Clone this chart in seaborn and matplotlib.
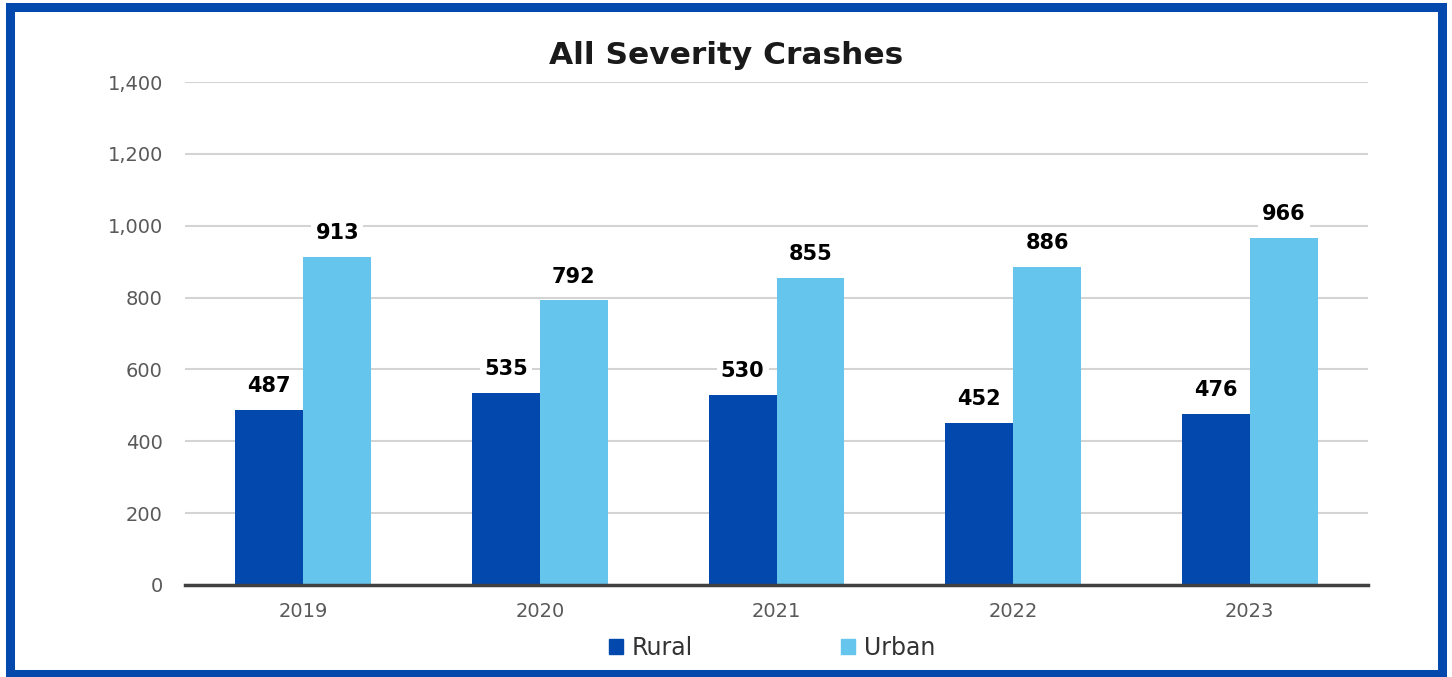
import matplotlib
matplotlib.use("Agg")
import matplotlib.pyplot as plt
import matplotlib.patches as mpatches
import matplotlib.ticker as mticker
import seaborn as sns
import pandas as pd

years = ["2019", "2020", "2021", "2022", "2023"]
rural = [487, 535, 530, 452, 476]
urban = [913, 792, 855, 886, 966]
series_names = ["Rural", "Urban"]
yticks = [0, 200, 400, 600, 800, 1000, 1200, 1400]

colors = {"Rural": "#0349AD", "Urban": "#66C5EC"}

df = pd.DataFrame({
    "Year": years * 2,
    "Crashes": rural + urban,
    "Type": [series_names[0]] * len(years) + [series_names[1]] * len(years),
})

sns.set_theme(style="white")
plt.rcParams['font.family'] = ['DejaVu Sans']

fig = plt.figure(figsize=(14.52, 6.77), dpi=100)
ax = fig.add_axes([185/1452, 1-585/677, (1368-185)/1452, (585-82)/677])

sns.barplot(data=df, x="Year", y="Crashes", hue="Type", palette=colors,
            width=0.574, ax=ax, legend=False, saturation=1, edgecolor="none")

ax.set_xlim(-0.5, len(years) - 0.5)
ax.set_ylim(0, 1400)
ax.set_yticks(yticks)
ax.yaxis.set_major_formatter(mticker.FuncFormatter(lambda v, p: f"{int(v):,}"))
ax.grid(axis="y", color="#d4d4d4", linewidth=1.5)
ax.set_axisbelow(True)
for s in ["top", "right", "left"]:
    ax.spines[s].set_visible(False)
ax.spines["bottom"].set_color("#404040")
ax.spines["bottom"].set_linewidth(2.5)
ax.spines["bottom"].set_zorder(5)
ax.tick_params(axis="both", length=0, labelsize=14, labelcolor="#595959")
ax.tick_params(axis="y", pad=16)
ax.tick_params(axis="x", pad=12)
ax.set_xlabel("")
ax.set_ylabel("")

for cont in ax.containers:
    labels = ax.bar_label(cont, padding=10, fontsize=15, fontweight="bold", color="black")
    for t in labels:
        t.set_bbox(dict(facecolor="white", edgecolor="none", pad=3))

fig.text(0.5, 1-55/677, "All Severity Crashes", ha="center", va="center",
         fontsize=22.5, fontweight="bold", color="#1a1a1a")

handles = [mpatches.Patch(color=colors[n], label=n) for n in series_names]
leg = fig.legend(handles=handles, loc="center", bbox_to_anchor=(772/1452, 1-648/677),
                 ncol=2, frameon=False, fontsize=17, handlelength=0.6, handleheight=0.6,
                 handletextpad=0.35, columnspacing=6.3, labelcolor="#333333")

border = mpatches.Rectangle((10/1452, 3/677), 1-20/1452, 1-10/677, transform=fig.transFigure,
                            fill=False, edgecolor="#0349AD", linewidth=6.5, zorder=10)
fig.patches.append(border)

fig.savefig("out.png", dpi=100)
